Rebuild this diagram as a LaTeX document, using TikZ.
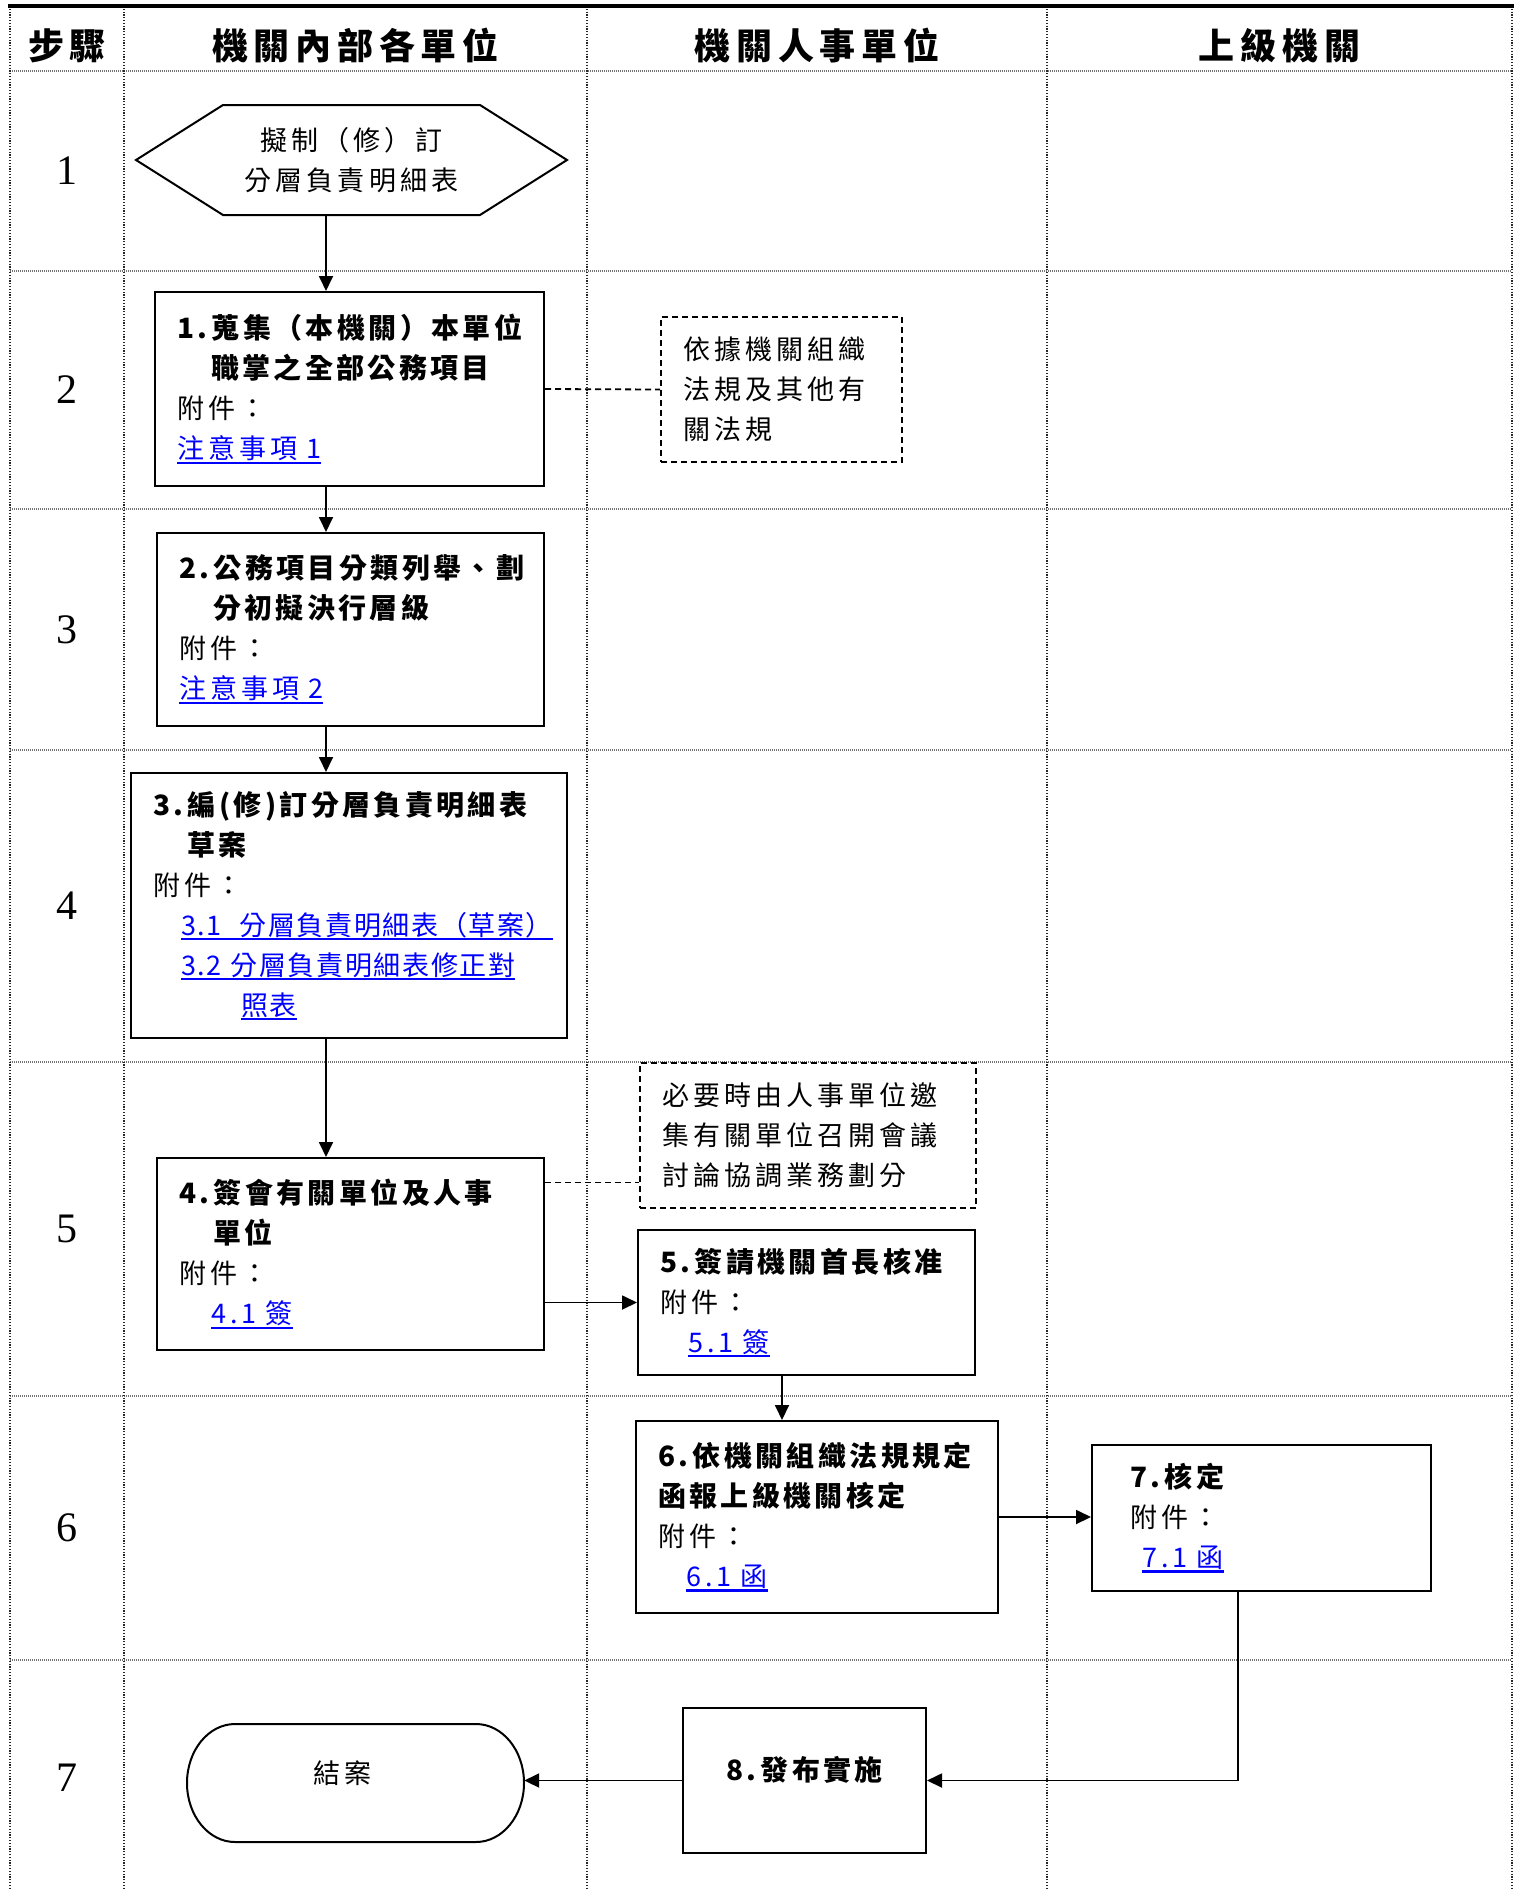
\documentclass[tikz,border=0pt]{standalone}
\usepackage{fontspec}
\setmainfont{Liberation Serif}
\newfontfamily\cjk{Noto Sans CJK TC}[LetterSpace=15]
\newfontfamily\cjktitle{Noto Sans CJK TC}[LetterSpace=12]
\newfontfamily\cjklink{Noto Sans CJK TC}[LetterSpace=15]
\newfontfamily\cjklinkt{Noto Sans CJK TC}[LetterSpace=6]
\newfontfamily\cjkhead{Noto Sans CJK TC}[LetterSpace=16]
\usetikzlibrary{arrows.meta}
\definecolor{linkblue}{RGB}{0,0,255}
\newcommand\lkgen[2]{\leavevmode{#1\color{linkblue}\setbox0\hbox{#2}\hbox{\rlap{\rule[-5pt]{\wd0}{2.2pt}}\box0}}}
\newcommand\lk[1]{\lkgen{\cjklink}{#1}}
\newcommand\lkt[1]{\lkgen{\cjklinkt}{#1}}
\newcommand\tl[1]{{\cjktitle\fontsize{28}{40}\selectfont\bfseries #1}}
\begin{document}
\begin{tikzpicture}[x=1pt,y=-1pt,
  hgrid/.style={line width=1.4pt, black!55, dash pattern=on 1pt off 1pt},
  vgrid/.style={line width=1.2pt, black!85, dash pattern=on 1.2pt off 1.6pt},
  box/.style={draw, line width=2pt, inner xsep=22pt, inner ysep=0pt, align=left,
    font=\cjk\fontsize{27}{40}\selectfont},
  dbox/.style={box, dash pattern=on 6pt off 4pt, line width=1.8pt},
  plain/.style={inner sep=0pt, align=center, font=\cjk\fontsize{27}{40}\selectfont},
  arr/.style={line width=1.8pt, -{Triangle[length=15pt,width=14pt]}},
  dline/.style={line width=1.8pt, dash pattern=on 6pt off 4pt},
  head/.style={inner sep=0pt, font=\cjkhead\bfseries\fontsize{36}{40}\selectfont},
  stepno/.style={inner sep=0pt, font=\fontsize{42}{44}\selectfont}]
\useasboundingbox (0,0) rectangle (1520,1890);
% table grid
\foreach \y in {71,271,509,750,1062,1396,1660} \draw[hgrid] (10,\y) -- (1512,\y);
\foreach \x in {10,124,587,1047,1512} \draw[vgrid] (\x,6) -- (\x,1890);
\draw[line width=3.5pt] (8,6) -- (1514,6);
% headers
\node[head] (h0) at (67,46) {步驟};
\node[head] (h1) at (355.5,46) {機關內部各單位};
\node[head] (h2) at (817,46) {機關人事單位};
\node[head] (h3) at (1279.5,46) {上級機關};
% step numbers
\node[stepno] (s1) at (67,171) {1};
\node[stepno] (s2) at (67,390) {2};
\node[stepno] (s3) at (67,629.5) {3};
\node[stepno] (s4) at (67,906) {4};
\node[stepno] (s5) at (67,1229) {5};
\node[stepno] (s6) at (67,1528) {6};
\node[stepno] (s7) at (67,1778) {7};
% start hexagon
\node[plain, minimum width=431pt, minimum height=110pt] (hex) at (351.5,160) {擬制（修）訂\\分層負責明細表};
\draw[line width=2pt] (136,160) -- (223,105) -- (480,105) -- (567,160) -- (480,215) -- (223,215) -- cycle;
% boxes
\node[box, minimum width=389pt, minimum height=194pt, text width=345pt] (b1) at (349.5,389)
  {\tl{1.\,蒐集（本機關）本單位}\\\hspace*{34pt}\tl{職掌之全部公務項目}\\附件：\\\lk{注意事項 1}};
\node[dbox, minimum width=241pt, minimum height=145pt, text width=197pt] (A) at (781.5,389.5)
  {依據機關組織\\法規及其他有\\關法規};
\node[box, minimum width=387pt, minimum height=193pt, text width=343pt] (b2) at (350.5,629.5)
  {\tl{2.\,公務項目分類列舉、劃}\\\hspace*{34pt}\tl{分初擬決行層級}\\附件：\\\lk{注意事項 2}};
\node[box, minimum width=436pt, minimum height=265pt, text width=392pt] (b3) at (349,905.5)
  {\tl{3.\,編(修)訂分層負責明細表}\\\hspace*{34pt}\tl{草案}\\附件：\\\hspace*{28pt}\lkt{3.1\ \ 分層負責明細表（草案）}\\\hspace*{28pt}\lkt{3.2 分層負責明細表修正對}\\\hspace*{88pt}\lkt{照表}};
\node[box, minimum width=387pt, minimum height=192pt, text width=343pt] (b4) at (350.5,1254)
  {\tl{4.\,簽會有關單位及人事}\\\hspace*{34pt}\tl{單位}\\附件：\\\hspace*{32pt}\lk{4.1 簽}};
\node[dbox, minimum width=336pt, minimum height=145pt, text width=292pt] (B) at (808,1135.5)
  {必要時由人事單位邀\\集有關單位召開會議\\討論協調業務劃分};
\node[box, minimum width=337pt, minimum height=145pt, text width=293pt] (b5) at (806.5,1302.5)
  {\tl{5.\,簽請機關首長核准}\\附件：\\\hspace*{28pt}\lk{5.1 簽}};
\node[box, minimum width=362pt, minimum height=192pt, text width=318pt] (b6) at (817,1517)
  {\tl{6.\,依機關組織法規規定}\\\tl{函報上級機關核定}\\附件：\\\hspace*{28pt}\lk{6.1 函}};
\node[box, inner xsep=38pt, minimum width=339pt, minimum height=146pt, text width=263pt] (b7) at (1261.5,1518)
  {\tl{7.\,核定}\\附件：\\\hspace*{12pt}\lk{7.1 函}};
\node[box, align=center, inner xsep=0pt, minimum width=243pt, minimum height=145pt] (b8) at (804.5,1780.5)
  {\raisebox{24pt}{\tl{8.\,發布實施}}};
% terminal
\node[plain, minimum width=337pt, minimum height=118pt] (end) at (355.5,1783) {\hspace*{-26pt}\raisebox{21pt}{結案}};
\draw[line width=2pt] (235,1724) -- (476,1724) .. controls (502.5,1724) and (524,1750.4) .. (524,1783)
  .. controls (524,1815.6) and (502.5,1842) .. (476,1842) -- (235,1842)
  .. controls (208.5,1842) and (187,1815.6) .. (187,1783)
  .. controls (187,1750.4) and (208.5,1724) .. (235,1724) -- cycle;
% connectors
\coordinate (ax) at (326,0);
\coordinate (bx) at (782,0);
\coordinate (cx) at (1238,0);
\coordinate (dy) at (0,1182.5);
\draw[arr] (hex.south -| ax) -- (b1.north -| ax);
\draw[arr] (b1.south -| ax) -- (b2.north -| ax);
\draw[arr] (b2.south -| ax) -- (b3.north -| ax);
\draw[arr] (b3.south -| ax) -- (b4.north -| ax);
\draw[dline] (b1.east) -- (A.west);
\draw[dline] (b4.east |- dy) -- (B.west |- dy);
\draw[arr] (b4.east |- b5.west) -- (b5.west);
\draw[arr] (b5.south -| bx) -- (b6.north -| bx);
\draw[arr] (b6.east) -- (b6.east -| b7.west);
\draw[arr] (b7.south -| cx) |- (b8.east);
\draw[arr] (b8.west) -- (b8.west -| end.east);
\end{tikzpicture}
\end{document}
